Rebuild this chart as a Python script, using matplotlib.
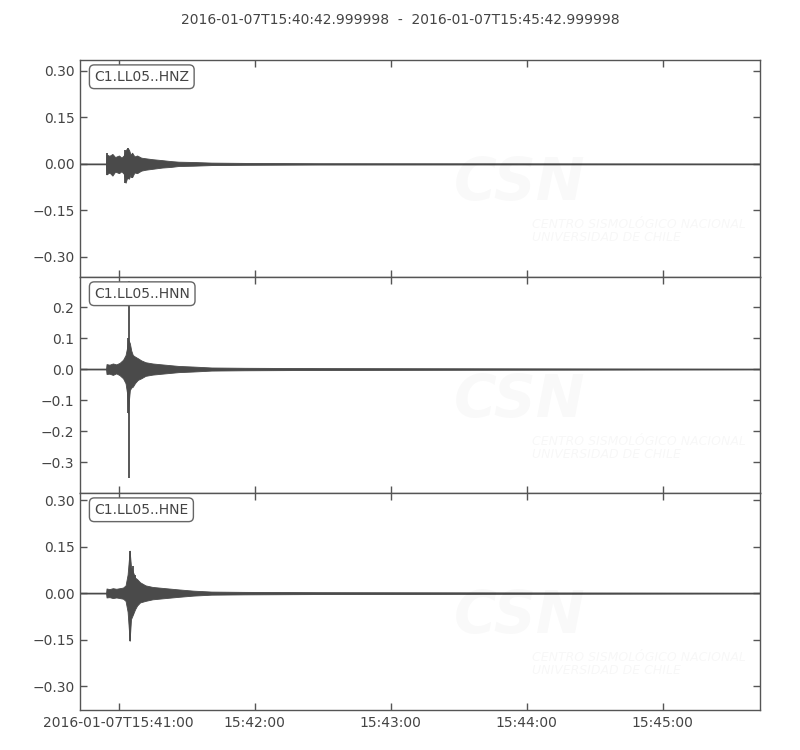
import matplotlib
matplotlib.use("Agg")
import matplotlib.pyplot as plt

# seconds after 2016-01-07T15:40:42.999998 (5 min window)
TITLE = "2016-01-07T15:40:42.999998  -  2016-01-07T15:45:42.999998"
CHANNELS = ["C1.LL05..HNZ", "C1.LL05..HNN", "C1.LL05..HNE"]
XTICKS = [17, 77, 137, 197, 257]
XLABELS = ["2016-01-07T15:41:00", "15:42:00", "15:43:00", "15:44:00", "15:45:00"]

# envelope of each trace
T_Z = [0, 11.5, 11.7, 13, 14.3, 15.5, 17.2, 18.3, 19.4, 20.1, 20.8, 21.6, 22.3, 23.0, 24.0, 25.2,
       27.0, 28.9, 32, 36.2, 40, 43.5, 50, 58, 72.7, 105, 200, 300]
UP_Z = [0.001, 0.001, 0.030, 0.026, 0.032, 0.022, 0.027, 0.020, 0.028, 0.044, 0.050, 0.046, 0.030,
        0.036, 0.024, 0.027, 0.020, 0.018, 0.015, 0.012, 0.009, 0.007, 0.006, 0.004, 0.003, 0.002,
        0.0015, 0.001]
LO_Z = [-0.001, -0.001, -0.034, -0.028, -0.038, -0.025, -0.030, -0.024, -0.033, -0.061, -0.045,
        -0.048, -0.035, -0.043, -0.028, -0.030, -0.022, -0.019, -0.016, -0.012, -0.010, -0.007,
        -0.006, -0.004, -0.003, -0.002, -0.0015, -0.001]

T_N = [0, 11.5, 11.7, 13, 14.5, 16, 17.5, 19.0, 20.1, 20.8, 21.2, 21.6, 22.0, 22.6, 23.3, 24.3,
       25.5, 27.0, 28.9, 32, 36.2, 43.5, 50, 58, 72.7, 105, 200, 300]
UP_N = [0.001, 0.001, 0.016, 0.014, 0.018, 0.015, 0.020, 0.030, 0.045, 0.070, 0.094, 0.090, 0.083,
        0.060, 0.045, 0.040, 0.035, 0.028, 0.022, 0.018, 0.015, 0.010, 0.008, 0.005, 0.004, 0.003,
        0.002, 0.001]
LO_N = [-0.001, -0.001, -0.016, -0.015, -0.019, -0.014, -0.020, -0.030, -0.046, -0.080, -0.143,
        -0.100, -0.068, -0.060, -0.057, -0.045, -0.035, -0.030, -0.022, -0.018, -0.015, -0.010,
        -0.008, -0.005, -0.004, -0.003, -0.002, -0.001]

T_E = [0, 11.5, 11.7, 13, 14.5, 16, 17.5, 19.0, 20.1, 21.0, 21.9, 22.5, 23.3, 24.3, 25.2, 26.5,
       28.9, 32, 36.2, 43.5, 50, 58, 72.7, 105, 200, 300]
UP_E = [0.001, 0.001, 0.015, 0.013, 0.016, 0.014, 0.016, 0.018, 0.025, 0.060, 0.137, 0.086, 0.070,
        0.050, 0.045, 0.035, 0.025, 0.020, 0.017, 0.012, 0.008, 0.005, 0.004, 0.003, 0.002, 0.001]
LO_E = [-0.001, -0.001, -0.014, -0.013, -0.016, -0.014, -0.016, -0.018, -0.025, -0.060, -0.154,
        -0.084, -0.070, -0.052, -0.040, -0.030, -0.025, -0.020, -0.017, -0.012, -0.008, -0.005,
        -0.004, -0.003, -0.002, -0.001]

# sharp spikes: (time, min, max)
SPK_Z = [(12.0, -0.036, 0.034), (19.8, -0.061, 0.046), (21.0, -0.050, 0.050), (23.0, -0.045, 0.030)]
SPK_N = [(21.6, -0.353, 0.285), (21.2, -0.143, 0.10)]
SPK_E = [(21.9, -0.154, 0.137), (23.3, -0.07, 0.086), (24.4, -0.04, 0.06)]

YLIMS = [(-0.365, 0.335), (-0.400, 0.297), (-0.377, 0.323)]
YTICKS = [[-0.30, -0.15, 0.0, 0.15, 0.30], [-0.3, -0.2, -0.1, 0.0, 0.1, 0.2],
          [-0.30, -0.15, 0.0, 0.15, 0.30]]
YFMT = ["{:.2f}", "{:.1f}", "{:.2f}"]

TRACES = [(T_Z, UP_Z, LO_Z, SPK_Z), (T_N, UP_N, LO_N, SPK_N), (T_E, UP_E, LO_E, SPK_E)]

C = "#4a4a4a"
TXT = "#444444"
fig = plt.figure(figsize=(8, 7.5), dpi=100)
fig.text(0.5, 1 - 20 / 750, TITLE, ha="center", va="center", fontsize=10, color=TXT)

boxes = [(60, 277), (277, 493), (493, 710)]
for i, ((top, bot), (t, up, lo, spk)) in enumerate(zip(boxes, TRACES)):
    ax = fig.add_axes([80 / 800, 1 - bot / 750, 680 / 800, (bot - top) / 750])
    # faint watermark
    ax.text(0.55, 0.43, "CSN", transform=ax.transAxes, fontsize=42, fontweight="bold",
            style="italic", color="#000000", alpha=0.025, ha="left", va="center")
    ax.text(0.665, 0.21, "CENTRO SISMOLÓGICO NACIONAL\nUNIVERSIDAD DE CHILE",
            transform=ax.transAxes, fontsize=9, style="italic", color="#000000",
            alpha=0.03, ha="left", va="center", linespacing=1.0)
    ax.axhline(0, color=C, lw=1.0, zorder=1)
    ax.fill_between(t, lo, up, color=C, lw=0.6, edgecolor=C, zorder=2)
    for ts, mn, mx in spk:
        ax.vlines(ts, mn, mx, color=C, lw=1.3, zorder=3)
    ax.set_xlim(0, 300)
    ax.set_ylim(*YLIMS[i])
    ax.set_yticks(YTICKS[i])
    ax.set_yticklabels([YFMT[i].format(v).replace("-", "\u2212") if v != 0 else YFMT[i].format(0.0)
                        for v in YTICKS[i]])
    ax.set_xticks(XTICKS)
    if i == 2:
        ax.set_xticklabels(XLABELS)
    else:
        ax.set_xticklabels([])
    ax.tick_params(direction="in", top=True, right=True, length=5, width=1, color="#555555",
                   labelcolor=TXT, labelsize=10, pad=4)
    for s in ax.spines.values():
        s.set_color("#555555")
        s.set_linewidth(1.0)
    ax.text(0.021, 0.955, CHANNELS[i], transform=ax.transAxes, ha="left", va="top",
            fontsize=10, color=TXT,
            bbox=dict(boxstyle="round,pad=0.35", fc="white", ec="#666666", lw=1))

fig.savefig("out.png", dpi=100)
